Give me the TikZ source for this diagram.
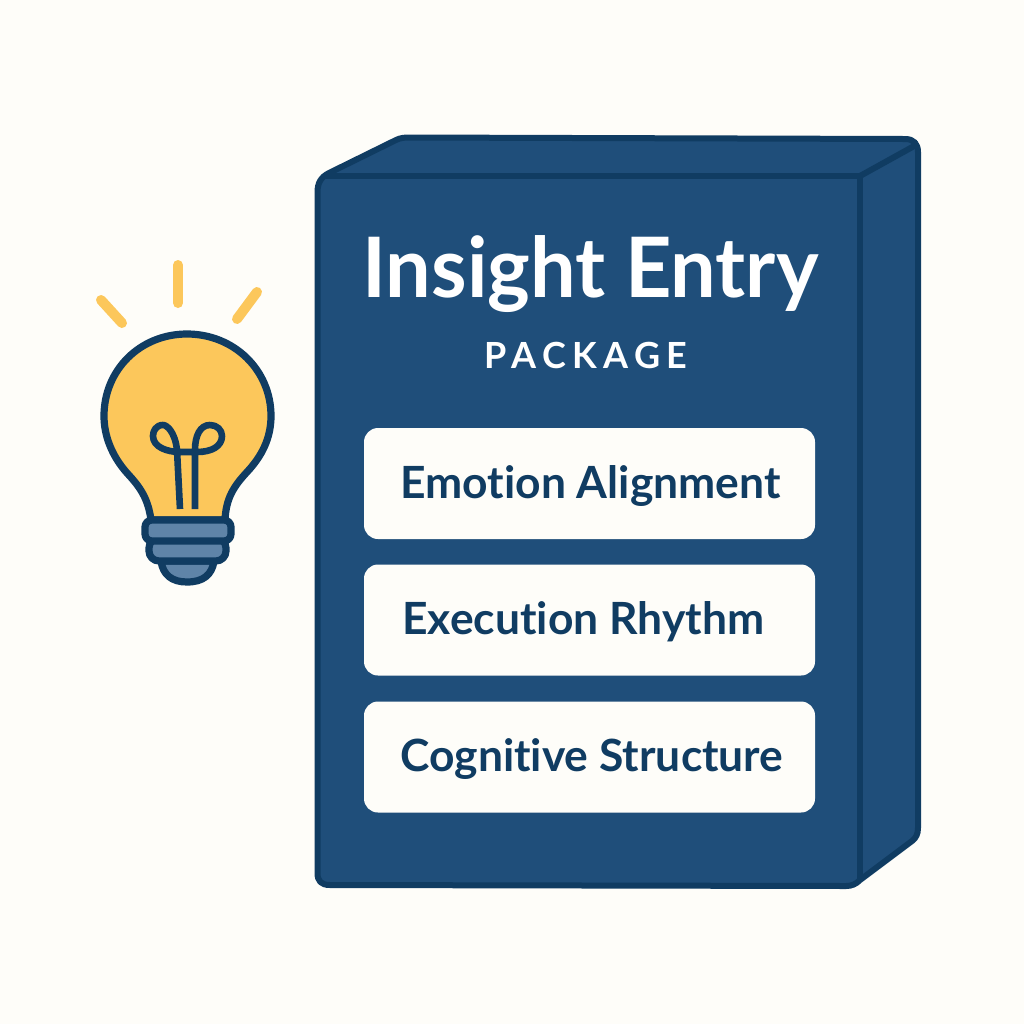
\documentclass[tikz,border=0pt]{standalone}
\usepackage{fontspec}
\setmainfont[Ligatures=NoCommon]{Lato}
\definecolor{bgc}{HTML}{FEFDF9}
\definecolor{boxfill}{HTML}{1F4E7A}
\definecolor{boxline}{HTML}{103C62}
\definecolor{bulbc}{HTML}{FCC75B}
\definecolor{basec}{HTML}{5F84A8}
\tikzset{
  row/.style={fill=bgc,draw=none,rounded corners=7pt,minimum width=225.5pt,minimum height=55.5pt,inner sep=0pt},
  rowtext/.style={text=boxline,font=\fontsize{22.2}{26}\selectfont\bfseries,anchor=base west,inner sep=0pt},
  edge/.style={draw=boxline,line width=3pt,line join=round},
  ray/.style={draw=bulbc,line width=5pt,line cap=round},
  bulbline/.style={draw=boxline,line width=3.6pt,line join=round,line cap=round}
}
\begin{document}
\begin{tikzpicture}[x=0.5pt,y=-0.5pt]
\useasboundingbox (0,0) rectangle (1024,1024);
\fill[bgc] (0,0) rectangle (1024,1024);
% box body
\draw[edge,fill=boxfill]
  (317.5,192) .. controls (317.5,183) and (321,177) .. (329,173)
  -- (396,140) .. controls (400,138) and (404,137.5) .. (409,137.5)
  -- (905,139) .. controls (914,139) and (918,144) .. (918,152)
  -- (918,828) .. controls (918,834) and (916,838) .. (912,841)
  -- (860,880) .. controls (856,884) and (852,886) .. (846,886)
  -- (330,885) .. controls (321,885) and (317.5,881) .. (317.5,873) -- cycle;
\draw[edge] (326,176) -- (860,176) -- (860,881);
\draw[edge] (860,176) -- (916,145);
% title
\node[text=white,font=\fontsize{41.7}{48}\selectfont\bfseries,anchor=base west,inner sep=0pt] (title) at (362,297) {\addfontfeature{FakeStretch=0.97}Insight Entry};
\node[text=white,font=\fontsize{18}{20}\selectfont\bfseries,anchor=base west,inner sep=0pt] (pack) at (484,368) {\addfontfeature{LetterSpace=18}PACKAGE};
% rows
\node[row] (r1) at (589.5,483.5) {};
\node[row] (r2) at (589.5,620) {};
\node[row] (r3) at (589.5,757) {};
\node[rowtext] (t1) at (400,498) {Emotion Alignment};
\node[rowtext] (t2) at (402,634) {Execution Rhythm};
\node[rowtext] (t3) at (400,771) {Cognitive Structure};
% rays
\draw[ray] (101,300) -- (122,323);
\draw[ray] (178,265) -- (178,303);
\draw[ray] (257,292) -- (237,319);
% bulb
\draw[bulbline,fill=bulbc]
  (151,520) .. controls (148,498) and (140,487) .. (127,473)
  .. controls (112,456) and (104,436) .. (104,416)
  .. controls (104,370) and (140,334) .. (187,334)
  .. controls (234,334) and (271,370) .. (271,416)
  .. controls (271,438) and (262,456) .. (247,472)
  .. controls (234,486) and (226,498) .. (225,520) -- cycle;
% filament
\draw[bulbline,line width=3.3pt,line cap=butt,fill=none]
  (180,509) -- (177,450)
  .. controls (175,432) and (167,425) .. (163,425)
  .. controls (156,425) and (153,431) .. (153,436)
  .. controls (153,447) and (167,452) .. (180,452)
  -- (197,452)
  .. controls (212,452) and (222,446) .. (222,436)
  .. controls (222,430) and (217,425) .. (210,425)
  .. controls (200,425) and (195,436) .. (195,450)
  -- (195,509);
% base
\draw[bulbline,fill=basec] (161,561) .. controls (163,575) and (172,582) .. (187,582)
  .. controls (203,582) and (212,575) .. (214,561) -- cycle;
\draw[bulbline,fill=basec,rounded corners=5pt] (149,538) -- (226,538) -- (226,561) -- (149,561) -- cycle;
\draw[bulbline,fill=basec,rounded corners=3.5pt] (145,520) rectangle (231,541);
\end{tikzpicture}
\end{document}
